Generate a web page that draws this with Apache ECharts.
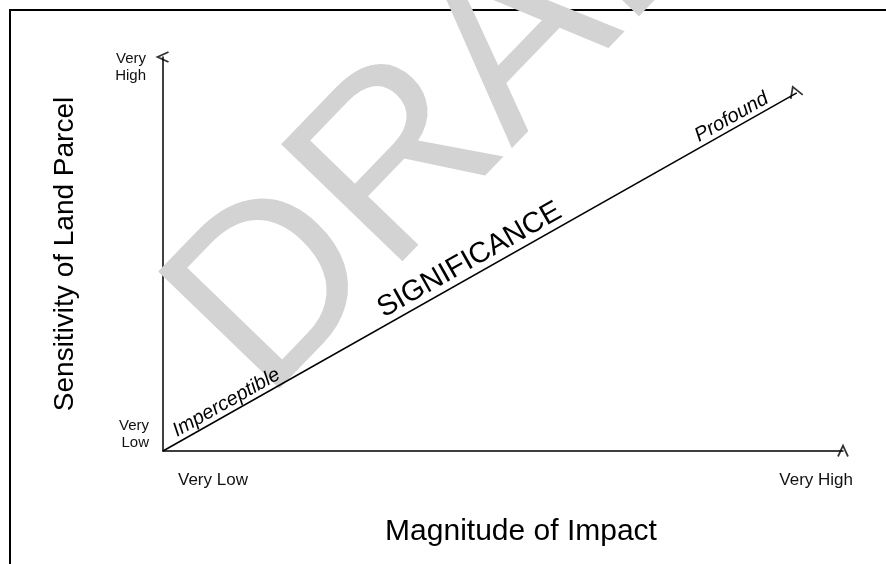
<!DOCTYPE html>
<html>
<head>
<meta charset="utf-8">
<script src="https://cdn.jsdelivr.net/npm/echarts@6/dist/echarts.min.js"></script>
<style>
  html, body { margin: 0; padding: 0; background: #fff; }
  #chart { width: 886px; height: 564px; }
</style>
</head>
<body>
<div id="chart"></div>
<script>
// values (both axes run 0..1, "very low" to "very high")
const axisRange = [0, 1];
const diagonal = [[0, 0], [0.932, 0.909]];
const xTickLabels = ['Very Low', 'Very High'];
const yTickLabels = ['Very\nLow', 'Very\nHigh'];
const lineLabels = ['Imperceptible', 'SIGNIFICANCE', 'Profound'];
const lineLabelAt = [0.108, 0.495, 0.905]; // share of the way along the diagonal
const arrowTips = [[0, 1], [1, 0], diagonal[1]];

const font = '"Liberation Sans", Arial, sans-serif';
const chart = echarts.init(document.getElementById('chart'));

const arrowPaths = [
  'path://M11,0 L0,5 L11,10',   // y-axis head drawn as "<"
  'path://M0,11 L5,0 L10,11',   // x-axis head drawn as "^"
  'path://M0,12 L2,0 L12,8'     // diagonal head
];

function buildOption(angle) {
  return {
    animation: false,
    grid: { left: 163, right: 43, top: 57, bottom: 113 },
    xAxis: {
      type: 'value', min: axisRange[0], max: axisRange[1],
      axisLine: { lineStyle: { color: '#000', width: 1.5 } },
      axisTick: { show: false }, axisLabel: { show: false }, splitLine: { show: false },
      name: 'Magnitude of Impact', nameLocation: 'middle', nameGap: 66,
      nameTextStyle: { fontFamily: font, fontSize: 30, color: '#000', padding: [0, 0, 0, 36] }
    },
    yAxis: {
      type: 'value', min: axisRange[0], max: axisRange[1],
      axisLine: { lineStyle: { color: '#000', width: 1.5 } },
      axisTick: { show: false }, axisLabel: { show: false }, splitLine: { show: false },
      name: 'Sensitivity of Land Parcel', nameLocation: 'middle', nameGap: 84,
      nameTextStyle: { fontFamily: font, fontSize: 28, color: '#000' }
    },
    graphic: [
      {
        type: 'rect', z: 0, silent: true,
        shape: { x: 10, y: 10, width: 1000, height: 1000 },
        style: { fill: 'none', stroke: '#000', lineWidth: 2 }
      },
      {
        type: 'text', z: 1, silent: true,
        x: 217, y: 356, rotation: 46 * Math.PI / 180,
        style: { text: 'DRAFT', font: '245px ' + font, fill: '#d3d3d3', align: 'left', verticalAlign: 'middle' }
      },
      {
        type: 'text', x: 178, y: 480,
        style: { text: xTickLabels[0], font: '17px ' + font, fill: '#111', align: 'left', verticalAlign: 'middle' }
      },
      {
        type: 'text', x: 853, y: 480,
        style: { text: xTickLabels[1], font: '17px ' + font, fill: '#111', align: 'right', verticalAlign: 'middle' }
      },
      {
        type: 'text', x: 149, y: 434,
        style: { text: yTickLabels[0], font: '15px ' + font, lineHeight: 17, fill: '#111', align: 'right', verticalAlign: 'middle' }
      },
      {
        type: 'text', x: 146, y: 67,
        style: { text: yTickLabels[1], font: '15px ' + font, lineHeight: 17, fill: '#111', align: 'right', verticalAlign: 'middle' }
      }
    ],
    series: [
      {
        type: 'line', data: diagonal, symbol: 'none', z: 3,
        lineStyle: { color: '#000', width: 1.5 }
      },
      {
        type: 'scatter', z: 4, symbolSize: 0, silent: true,
        data: lineLabels.map((name, i) => ({
          name,
          value: [diagonal[1][0] * lineLabelAt[i], diagonal[1][1] * lineLabelAt[i]],
          label: i === 1
            ? { fontSize: 29, fontStyle: 'normal' }
            : { fontSize: 20, fontStyle: 'italic' }
        })),
        label: {
          show: true, position: 'top', distance: 1, rotate: angle,
          formatter: p => p.name,
          fontFamily: font, color: '#000', opacity: 1
        },
        itemStyle: { color: '#000', opacity: 1 }
      },
      {
        type: 'scatter', z: 5, silent: true,
        data: arrowTips.map((v, i) => ({
          value: v, symbol: arrowPaths[i],
          symbolSize: i === 0 ? [11, 10] : (i === 1 ? [10, 11] : [12, 12])
        })),
        itemStyle: { color: 'transparent', borderColor: '#000', borderWidth: 1.8 }
      }
    ]
  };
}

chart.setOption(buildOption(0));
// angle of the diagonal on screen, so the labels sit along it
const a = chart.convertToPixel({ gridIndex: 0 }, diagonal[0]);
const b = chart.convertToPixel({ gridIndex: 0 }, diagonal[1]);
const angle = Math.atan2(a[1] - b[1], b[0] - a[0]) * 180 / Math.PI;
chart.setOption(buildOption(angle), true);
</script>
</body>
</html>
